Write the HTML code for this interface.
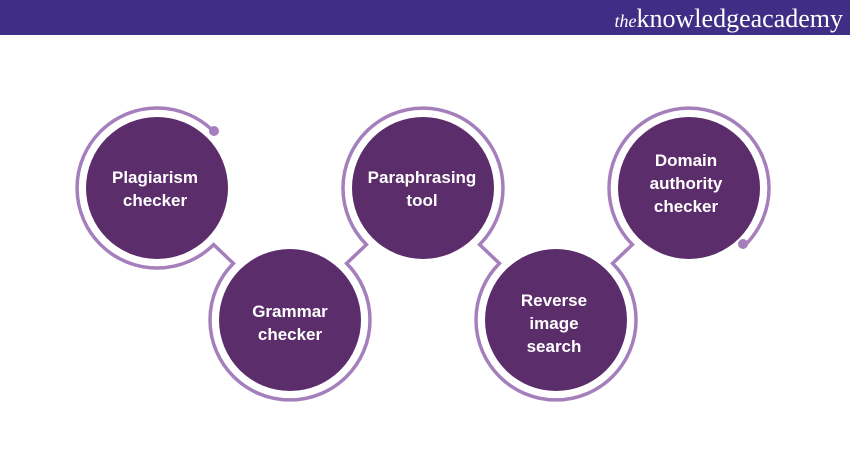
<!DOCTYPE html>
<html><head><meta charset="utf-8"><style>
body{margin:0;width:850px;height:450px;background:#fff;overflow:hidden;font-family:"Liberation Sans",sans-serif}
</style></head><body>
<svg width="850" height="450" xmlns="http://www.w3.org/2000/svg">
<rect x="0" y="0" width="850" height="35" fill="#3f2e85"/>
<text x="843" y="27" text-anchor="end" fill="#fff" font-family="Liberation Serif,serif" font-size="26"><tspan font-style="italic" font-size="18">the</tspan>knowledgeacademy</text>
<path d="M213.6,131.4 A80,80 0 1 0 213.6,244.6 L233.4,263.4 A80,80 0 1 0 346.6,263.4 L366.4,244.6 A80,80 0 1 1 479.6,244.6 L499.4,263.4 A80,80 0 1 0 612.6,263.4 L632.4,244.6 A80,80 0 1 1 745.6,244.6" fill="none" stroke="#a47fbb" stroke-width="3.5"/>
<circle cx="214" cy="131" r="5" fill="#a47fbb"/>
<circle cx="743" cy="244" r="5" fill="#a47fbb"/>
<g fill="#5c2d6b">
<circle cx="157" cy="188" r="71"/><circle cx="290" cy="320" r="71"/><circle cx="423" cy="188" r="71"/><circle cx="556" cy="320" r="71"/><circle cx="689" cy="188" r="71"/>
</g>
<g fill="#fff" font-size="17" font-weight="bold" text-anchor="middle">
<text x="155" y="183">Plagiarism</text><text x="155" y="206">checker</text>
<text x="290" y="317">Grammar</text><text x="290" y="340">checker</text>
<text x="422" y="183">Paraphrasing</text><text x="422" y="206">tool</text>
<text x="554" y="306">Reverse</text><text x="554" y="329">image</text><text x="554" y="352">search</text>
<text x="686" y="166">Domain</text><text x="686" y="189">authority</text><text x="686" y="212">checker</text>
</g>
</svg>
</body></html>
